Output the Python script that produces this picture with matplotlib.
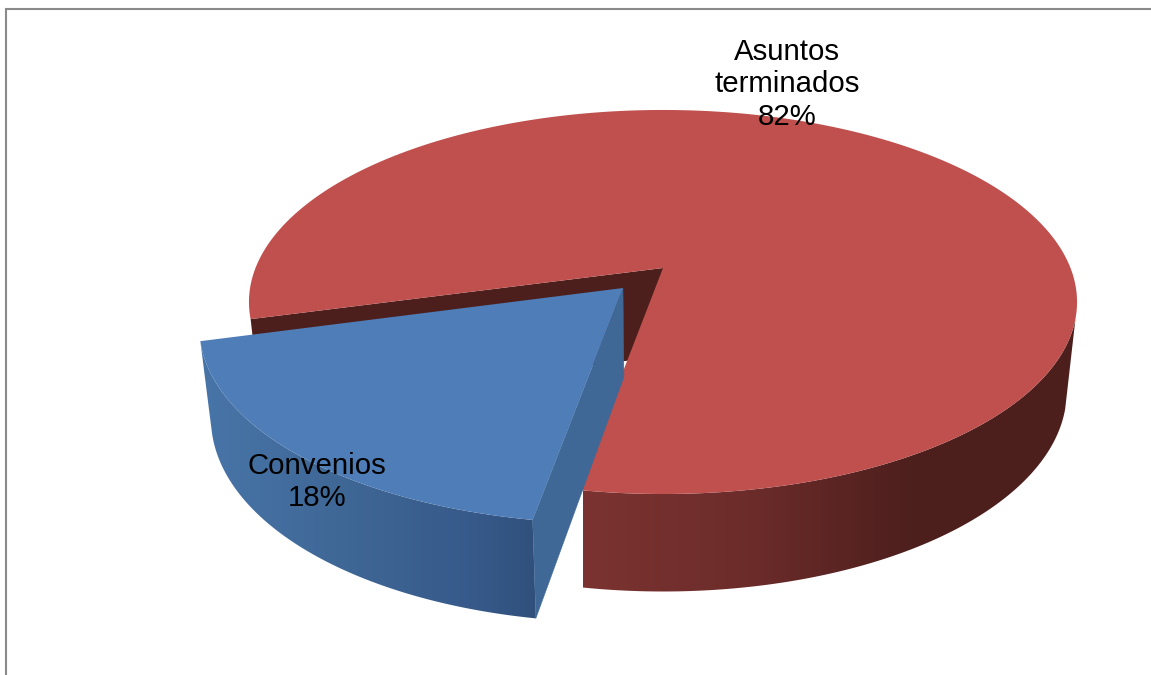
import numpy as np
import matplotlib
matplotlib.use('Agg')
import matplotlib.pyplot as plt
from matplotlib.patches import Polygon
from matplotlib.colors import LinearSegmentedColormap

# datos del grafico
categorias = ['Convenios', 'Asuntos\nterminados']
valores = [18, 82]

plt.rcParams['font.family'] = ['Liberation Sans', 'DejaVu Sans']

# proyeccion del pastel (pixeles de la imagen)
x0, y0 = 663, 268
a, b, k = 407.5, 186, 0.177
inicio = 10  # grados desde el frente, girando hacia la izquierda
explosion = 0.143
ajuste_azul = 0.7  # la parte separada se abre un poco mas por la perspectiva


def proyectar(u, v):
    w = 1 - k * v
    return x0 + a * u / w, y0 + b * v / w


def abajo(x, y, v):
    # la misma punta pero en la base del cilindro
    return x0 + (x - x0) * 0.975, y + 88 / (1 - 0.55 * k * v)


def arco(t1, t2, du=0, dv=0, n=200):
    t = np.radians(np.linspace(t1, t2, n))
    u = -np.sin(t) + du
    v = np.cos(t) + dv
    x, y = proyectar(u, v)
    return x, y, v


def pared(t1, t2, du, dv):
    x, y, v = arco(t1, t2, du, dv)
    xb, yb = abajo(x, y, v)
    return np.column_stack([np.r_[x, xb[::-1]], np.r_[y, yb[::-1]]])


def degradado(ax, puntos, colores, x1, x2, z):
    cmap = LinearSegmentedColormap.from_list('g', colores)
    img = ax.imshow(np.linspace(0, 1, 256).reshape(1, -1), cmap=cmap, aspect='auto',
                    extent=[x1, x2, 675, 0], zorder=z)
    clip = Polygon(puntos, closed=True, transform=ax.transData, fc='none', ec='none')
    ax.add_patch(clip)
    img.set_clip_path(clip)


fig = plt.figure(figsize=(11.51, 6.75), dpi=100)
ax = fig.add_axes([0, 0, 1, 1])

angulos = np.array(valores) / sum(valores) * 360
fin_azul = inicio + angulos[0]
fin_rojo = fin_azul + angulos[1]

# parte roja
degradado(ax, pared(285, fin_rojo, 0, 0), ['#7b3331', '#6c2c2a', '#4d1f1d', '#4c1f1c'], 583, 1077, 1)

# pared interior oscura
x1, y1, v1 = arco(fin_azul, fin_azul, n=1)
xa = np.array([x0, x1[0]])
ya = np.array([y0, y1[0]])
xb, yb = abajo(xa, ya, np.array([0, v1[0]]))
ax.add_patch(Polygon(np.column_stack([[xa[0], xa[1], xb[1], xb[0]], [ya[0], ya[1], yb[1], yb[0]]]),
                     closed=True, fc='#4c1f1c', ec='none', zorder=2))

x, y, _ = arco(fin_azul, fin_rojo, n=500)
ax.add_patch(Polygon(np.column_stack([np.r_[x0, x], np.r_[y0, y]]), closed=True,
                     fc='#bf504d', ec='none', zorder=3))

# parte azul, separada del centro
medio = np.radians(inicio + angulos[0] / 2)
du = -np.sin(medio) * explosion
dv = np.cos(medio) * explosion
cx, cy = proyectar(du, dv)
cxb, cyb = abajo(cx, cy, dv)
inicio_azul = inicio - ajuste_azul

colores_azul = [(0, '#4875a9'), (0.4, '#3e6694'), (0.7, '#36598a'), (0.85, '#30507a'), (1, '#30507a')]
degradado(ax, pared(inicio_azul, fin_azul, du, dv), colores_azul, 195, 600, 4)

x, y, v = arco(inicio_azul, inicio_azul, du, dv, n=1)
xb, yb = abajo(x, y, v)
ax.add_patch(Polygon([[cx, cy], [x[0], y[0]], [xb[0], yb[0]], [cxb, cyb]], closed=True,
                     fc='#3f6896', ec='#3f6896', lw=0.3, zorder=5))

x, y, _ = arco(inicio_azul, fin_azul, du, dv)
ax.add_patch(Polygon(np.column_stack([np.r_[cx, x], np.r_[cy, y]]), closed=True,
                     fc='#4e7db8', ec='none', zorder=6))

# marco
ax.plot([6, 6, 1151], [675, 9, 9], color='#8a8a8a', lw=1.5, zorder=7, solid_joinstyle='miter')

# etiquetas
pos_etiquetas = [(317, 482), (787, 84.5)]
for nombre, valor, (xt, yt) in zip(categorias, valores, pos_etiquetas):
    ax.text(xt, yt, f'{nombre}\n{valor}%', ha='center', va='center', fontsize=21.2,
            linespacing=1.2, color='black', zorder=8)

ax.set_xlim(0, 1151)
ax.set_ylim(675, 0)
ax.axis('off')
fig.savefig('out.png', dpi=100, facecolor='white')
